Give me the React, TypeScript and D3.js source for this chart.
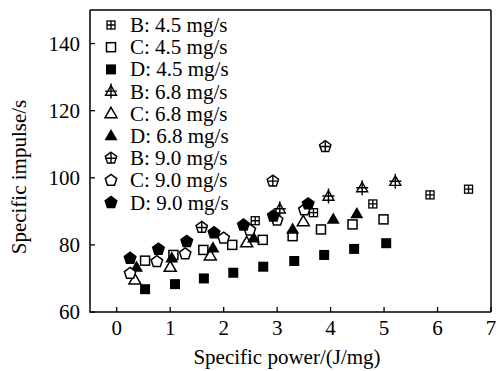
import React from 'react';
import * as d3 from 'd3';

// Specific power (J/mg) vs specific impulse (s)
const B45x = [2.59, 3.68, 4.79, 5.86, 6.58];
const B45y = [87.2, 89.6, 92.2, 94.9, 96.6];
const C45x = [0.53, 1.06, 1.62, 2.16, 2.73, 3.29, 3.82, 4.41, 4.99];
const C45y = [75.3, 77.0, 78.5, 80.0, 81.5, 82.6, 84.6, 86.1, 87.6];
const D45x = [0.53, 1.09, 1.63, 2.18, 2.74, 3.32, 3.88, 4.44, 5.04];
const D45y = [66.8, 68.3, 70.0, 71.7, 73.5, 75.2, 77.0, 78.8, 80.5];
const B68x = [3.05, 3.96, 4.59, 5.21];
const B68y = [90.6, 94.4, 96.9, 98.8];
const C68x = [0.34, 1.0, 1.75, 2.43, 3.49];
const C68y = [69.5, 73.3, 76.7, 80.6, 86.9];
const D68x = [0.37, 1.03, 1.8, 2.56, 3.29, 4.05, 4.49];
const D68y = [73.3, 76.0, 79.0, 82.0, 84.6, 87.6, 89.2];
const B90x = [1.59, 2.92, 3.9];
const B90y = [85.2, 99.0, 109.3];
const C90x = [0.25, 0.75, 1.28, 2.0, 2.49, 3.0, 3.51];
const C90y = [71.5, 75.0, 77.3, 82.0, 84.4, 87.4, 90.4];
const D90x = [0.25, 0.78, 1.31, 1.82, 2.37, 2.93, 3.58];
const D90y = [76.0, 78.7, 81.0, 83.6, 85.9, 88.6, 92.2];

const xTicks = [0, 1, 2, 3, 4, 5, 6, 7];
const yTicks = [60, 80, 100, 120, 140];

type Shape = 'sqCross' | 'sqOpen' | 'sqFill' | 'triCross' | 'triOpen' | 'triFill' | 'pentCross' | 'pentOpen' | 'pentFill';

const series: { label: string; shape: Shape; xs: number[]; ys: number[] }[] = [
  { label: 'B: 4.5 mg/s', shape: 'sqCross', xs: B45x, ys: B45y },
  { label: 'C: 4.5 mg/s', shape: 'sqOpen', xs: C45x, ys: C45y },
  { label: 'D: 4.5 mg/s', shape: 'sqFill', xs: D45x, ys: D45y },
  { label: 'B: 6.8 mg/s', shape: 'triCross', xs: B68x, ys: B68y },
  { label: 'C: 6.8 mg/s', shape: 'triOpen', xs: C68x, ys: C68y },
  { label: 'D: 6.8 mg/s', shape: 'triFill', xs: D68x, ys: D68y },
  { label: 'B: 9.0 mg/s', shape: 'pentCross', xs: B90x, ys: B90y },
  { label: 'C: 9.0 mg/s', shape: 'pentOpen', xs: C90x, ys: C90y },
  { label: 'D: 9.0 mg/s', shape: 'pentFill', xs: D90x, ys: D90y },
];

const W = 500;
const H = 371;
const margin = { left: 90, right: 9, top: 10, bottom: 59 };
const FONT = '"Liberation Serif", "Times New Roman", serif';

const pentagon = (r: number) => {
  const pts = d3.range(5).map(i => {
    const a = -Math.PI / 2 + (i * 2 * Math.PI) / 5;
    return [r * Math.cos(a), r * Math.sin(a)];
  });
  return 'M' + pts.map(p => p.join(',')).join('L') + 'Z';
};

const triangle = (s: number) => {
  const h = (s * Math.sqrt(3)) / 2;
  return `M0,${-h * 0.62}L${s / 2},${h * 0.38}L${-s / 2},${h * 0.38}Z`;
};

const Marker: React.FC<{ shape: Shape; x: number; y: number }> = ({ shape, x, y }) => {
  const sw = 1.5;
  const t = `translate(${x},${y})`;
  switch (shape) {
    case 'sqCross':
      return (
        <g transform={t} stroke="#000" strokeWidth={1.3} fill="#fff">
          <rect x={-4} y={-4} width={8} height={8} />
          <path d="M0,-4V4M-4,0H4" />
        </g>
      );
    case 'sqOpen':
      return (
        <g transform={t}>
          <rect x={-4.5} y={-4.5} width={9} height={9} fill="#fff" stroke="#000" strokeWidth={sw} />
        </g>
      );
    case 'sqFill':
      return (
        <g transform={t}>
          <rect x={-5} y={-5} width={10} height={10} fill="#000" />
        </g>
      );
    case 'triCross':
      return (
        <g transform={t} stroke="#000" strokeWidth={1.4} fill="#fff">
          <path d={triangle(11)} />
          <path d="M0,-8V7M-6,-0.5H6" fill="none" />
        </g>
      );
    case 'triOpen':
      return (
        <g transform={t}>
          <path d={triangle(12)} fill="#fff" stroke="#000" strokeWidth={sw} />
        </g>
      );
    case 'triFill':
      return (
        <g transform={t}>
          <path d={triangle(13)} fill="#000" />
        </g>
      );
    case 'pentCross':
      return (
        <g transform={t} stroke="#000" strokeWidth={1.4} fill="#fff">
          <path d={pentagon(6)} />
          <path d="M0,-6V5M-5.7,0H5.7" fill="none" />
        </g>
      );
    case 'pentOpen':
      return (
        <g transform={t}>
          <path d={pentagon(6)} fill="#fff" stroke="#000" strokeWidth={sw} />
        </g>
      );
    case 'pentFill':
      return (
        <g transform={t}>
          <path d={pentagon(7)} fill="#000" />
        </g>
      );
  }
  return null;
};

export default function App() {
  const x = d3.scaleLinear().domain([-0.5, 7]).range([margin.left, W - margin.right]);
  const y = d3.scaleLinear().domain([60, 150]).range([H - margin.bottom, margin.top]);
  const [x0, x1] = x.range();
  const [y0, y1] = y.range();

  return (
    <svg width={W} height={H} style={{ position: 'absolute', left: 0, top: 0, background: '#fff' }} fontFamily={FONT}>
      {/* points */}
      {series.map(s =>
        s.xs.map((v, i) => <Marker key={s.label + i} shape={s.shape} x={x(v)} y={y(s.ys[i])} />)
      )}

      {/* frame */}
      <path d={`M${x0},${y1}H${x1}`} stroke="#000" strokeWidth={1.5} />
      <path d={`M${x1},${y1}V${y0}`} stroke="#444" strokeWidth={2} />
      <path d={`M${x0},${y1}V${y0}H${x1}`} stroke="#000" strokeWidth={1.5} fill="none" />

      {/* x ticks */}
      {xTicks.map(t => (
        <g key={'x' + t}>
          <line x1={x(t)} x2={x(t)} y1={y0} y2={y0 - 5} stroke="#000" strokeWidth={1.3} />
          <text x={x(t)} y={y0 + 23} textAnchor="middle" fontSize={21}>{t}</text>
        </g>
      ))}

      {/* y ticks */}
      {yTicks.map(t => (
        <g key={'y' + t}>
          <line x1={x0} x2={x0 + 5} y1={y(t)} y2={y(t)} stroke="#000" strokeWidth={1.3} />
          <text x={x0 - 10} y={y(t)} dy="0.35em" textAnchor="end" fontSize={21}>{t}</text>
        </g>
      ))}

      {/* axis titles */}
      <text x={287} y={364} textAnchor="middle" fontSize={21}>Specific power/(J/mg)</text>
      <text transform={`translate(26,${(y0 + y1) / 2 + 16}) rotate(-90)`} textAnchor="middle" fontSize={21}>
        Specific impulse/s
      </text>

      {/* legend */}
      {series.map((s, i) => (
        <g key={'lg' + i}>
          <Marker shape={s.shape} x={111} y={25 + i * 22.2} />
          <text x={130} y={25 + i * 22.2} dy="0.33em" fontSize={21}>{s.label}</text>
        </g>
      ))}
    </svg>
  );
}
